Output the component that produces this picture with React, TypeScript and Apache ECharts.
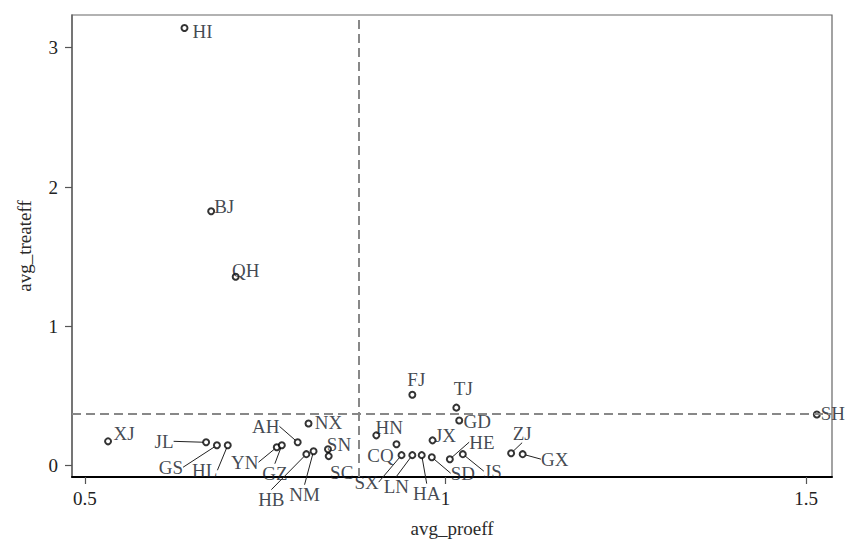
import React, { useEffect, useRef } from "react";
import * as echarts from "echarts";

const names = ["HI","BJ","QH","XJ","JL","GS","HL","YN","GZ","AH","NX","HB","NM","SN","SC","FJ","TJ","GD","HN","JX","CQ","SX","LN","HA","SD","HE","JS","ZJ","GX","SH"];
const proeff = [0.638,0.675,0.709,0.532,0.668,0.683,0.698,0.766,0.773,0.795,0.810,0.807,0.817,0.837,0.838,0.954,1.015,1.019,0.904,0.982,0.932,0.939,0.954,0.967,0.981,1.006,1.024,1.091,1.107,1.515];
const treateff = [3.142,1.826,1.356,0.174,0.167,0.146,0.146,0.132,0.146,0.167,0.302,0.082,0.103,0.117,0.068,0.509,0.416,0.324,0.217,0.181,0.153,0.075,0.075,0.075,0.060,0.046,0.082,0.089,0.082,0.367];
const xTicks = [0.5, 1, 1.5];
const yTicks = [0, 1, 2, 3];
const meanProeff = 0.884;
const meanTreateff = 0.367;

// label placement (pixel offsets of label centre from marker), and whether a leader line is drawn
const labelOffsets: Record<string, [number, number, boolean]> = {
  HI: [18, 4, false], BJ: [13, -5, false], QH: [10, -6, false], XJ: [16, -8, false],
  JL: [-42, -1, true], GS: [-46, 22, true], HL: [-23, 25, true], YN: [-32, 15, true],
  GZ: [-7, 28, true], AH: [-32, -16, true], NX: [20, -1, false], HB: [-35, 45, true],
  NM: [-9, 43, true], SN: [11, -5, false], SC: [13, 16, false], FJ: [4, -15, false],
  TJ: [7, -19, false], GD: [18, 1, false], HN: [13, -8, false], JX: [13, -5, false],
  CQ: [-16, 11, false], SX: [-35, 27, true], LN: [-16, 31, true], HA: [5, 38, true],
  SD: [31, 16, true], HE: [32, -17, true], JS: [30, 17, true], ZJ: [11, -20, true],
  GX: [32, 5, true], SH: [16, -1, false],
};

const FONT = "'Liberation Serif', 'Times New Roman', serif";

export default function App() {
  const ref = useRef<HTMLDivElement>(null);
  useEffect(() => {
    if (!ref.current) return;
    const chart = echarts.init(ref.current, null, { renderer: "svg" });
    const data = names.map((n, i) => ({
      name: n,
      value: [proeff[i], treateff[i]],
      labelLine: { show: labelOffsets[n][2] },
    }));
    chart.setOption({
      animation: false,
      backgroundColor: "#fff",
      grid: { left: 72, right: 13, top: 15, bottom: 62, show: true, borderColor: "#666", borderWidth: 1.2 },
      xAxis: {
        type: "value",
        min: 0.482,
        max: 1.536,
        name: "avg_proeff",
        nameLocation: "middle",
        nameGap: 42,
        nameTextStyle: { fontFamily: FONT, fontSize: 19, color: "#2a2a2a" },
        axisLine: { show: true, onZero: false, lineStyle: { color: "#000", width: 2 } },
        axisTick: { show: true, length: 7, customValues: xTicks, lineStyle: { color: "#555", width: 1.2 } },
        axisLabel: { customValues: xTicks, margin: 12, fontFamily: FONT, fontSize: 19, color: "#222" },
        splitLine: { show: false },
      },
      yAxis: {
        type: "value",
        min: -0.082,
        max: 3.235,
        name: "avg_treateff",
        nameLocation: "middle",
        nameGap: 38,
        nameTextStyle: { fontFamily: FONT, fontSize: 19, color: "#2a2a2a" },
        axisLine: { show: true, onZero: false, lineStyle: { color: "#666", width: 1.5 } },
        axisTick: { show: true, length: 7, customValues: yTicks, lineStyle: { color: "#555", width: 1.2 } },
        axisLabel: { customValues: yTicks, margin: 14, fontFamily: FONT, fontSize: 19, color: "#222" },
        splitLine: { show: false },
      },
      series: [
        {
          type: "scatter",
          data,
          symbol: "circle",
          symbolSize: 6,
          itemStyle: { color: "#fff", borderColor: "#000", borderWidth: 2 },
          label: {
            show: true,
            position: "inside",
            formatter: "{b}",
            fontFamily: FONT,
            fontSize: 19,
            color: "#121826",
          },
          labelLine: { show: true, lineStyle: { color: "#222", width: 1 } },
          labelLayout: (params: any) => {
            const o = labelOffsets[names[params.dataIndex]];
            return { dx: o[0], dy: o[1] };
          },
          markLine: {
            silent: true,
            symbol: "none",
            label: { show: false },
            lineStyle: { color: "#888", width: 2, type: [9, 5] },
            data: [{ xAxis: meanProeff }, { yAxis: meanTreateff }],
          },
          z: 3,
        },
      ],
    });
    return () => chart.dispose();
  }, []);
  return <div ref={ref} style={{ position: "fixed", left: 0, top: 0, width: 845, height: 543 }} />;
}
